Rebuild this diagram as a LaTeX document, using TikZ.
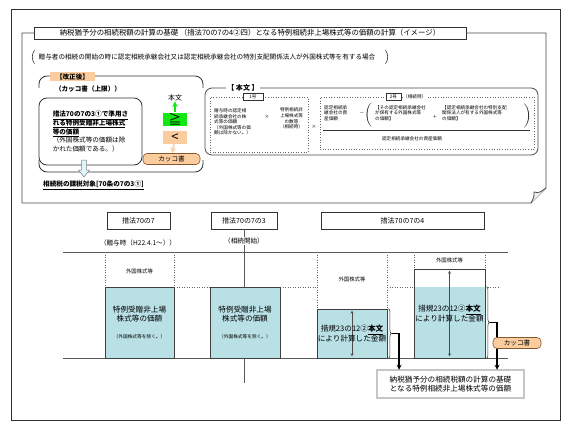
\documentclass[tikz,border=0pt]{standalone}
\usepackage{fontspec}
\setmainfont{Noto Sans CJK JP}
\usetikzlibrary{shapes.geometric, arrows, positioning, decorations.pathreplacing}

\definecolor{tealbox}{RGB}{185,224,229}
\definecolor{orng}{RGB}{251,204,158}
\definecolor{grn}{RGB}{20,232,20}

\newcommand{\fsTitle}{\fontsize{7.4pt}{9pt}\selectfont}
\newcommand{\fsCond}{\fontsize{6.6pt}{8.6pt}\selectfont}
\newcommand{\fsLaw}{\fontsize{7pt}{8pt}\selectfont}
\newcommand{\fsBox}{\fontsize{7.6pt}{9.4pt}\selectfont}
\newcommand{\fsSmall}{\fontsize{5.4pt}{6.4pt}\selectfont}
\newcommand{\fsXS}{\fontsize{4.7pt}{5.6pt}\selectfont}
\newcommand{\fsTiny}{\fontsize{4.6pt}{5.6pt}\selectfont}
\newcommand{\fsBig}{\fontsize{13pt}{14pt}\selectfont}

\tikzstyle{frame} = [draw=black!80, line width=0.6pt]
\tikzstyle{panel} = [draw=black!70, line width=0.8pt]
\tikzstyle{titlebox} = [rectangle, draw=black!80, line width=0.6pt, fill=white, minimum width=432pt, minimum height=12pt, inner sep=0pt, font=\fsTitle]
\tikzstyle{condtext} = [inner sep=1pt, minimum height=13pt, font=\fsCond]
\tikzstyle{paren} = [draw=black!80, line width=0.6pt]
\tikzstyle{grp} = [draw=black!80, line width=0.8pt, rounded corners=8pt]
\tikzstyle{kaiseitag} = [rectangle, fill=orng, inner sep=1pt, minimum width=45pt, minimum height=9pt, font=\fsCond\bfseries]
\tikzstyle{boldtext} = [inner sep=0pt, font=\fsCond\bfseries]
\tikzstyle{roundbox} = [rectangle, rounded corners=8pt, draw=black!80, line width=0.8pt, minimum width=103pt, minimum height=67pt, inner sep=0pt, align=left, font=\fsCond]
\tikzstyle{blockarrow} = [draw=gray, fill=cyan!12, line width=0.5pt]
\tikzstyle{cmpbox} = [rectangle, minimum width=24pt, minimum height=13pt, inner sep=0pt, font=\fsBig]
\tikzstyle{tag} = [rectangle, rounded corners=4pt, draw=brown!70!black, line width=0.6pt, fill=orng, minimum height=11pt, inner sep=0pt, font=\fsCond]
\tikzstyle{greenarrow} = [draw=grn, line width=1.5pt, ->, >=stealth]
\tikzstyle{orangearrow} = [draw=orng, line width=1.5pt, ->, >=stealth]
\tikzstyle{mainbox} = [rectangle, rounded corners=7pt, draw=black!70, line width=0.8pt, minimum width=333pt, minimum height=67pt, inner sep=0pt]
\tikzstyle{dotbox} = [rectangle, draw=black!60, dotted, line width=0.6pt, inner sep=0pt]
\tikzstyle{numlabel} = [rectangle, draw=black!80, line width=0.5pt, fill=white, minimum height=7pt, inner sep=0pt, font=\fsTiny]
\tikzstyle{tinytext} = [inner sep=0pt, font=\fsTiny]
\tikzstyle{lawbox} = [rectangle, draw=black!80, line width=0.6pt, fill=white, minimum height=17pt, inner sep=0pt, font=\fsLaw]
\tikzstyle{tline} = [draw=black!65, line width=1pt]
\tikzstyle{dotline} = [draw=black!60, dotted, line width=0.5pt]
\tikzstyle{valbox} = [rectangle, draw=black!75, line width=0.8pt, fill=tealbox, minimum width=70pt, inner sep=0pt]
\tikzstyle{valtext} = [inner sep=0pt, align=center, font=\fsBox]
\tikzstyle{smalltext} = [inner sep=1pt, font=\fsSmall]
\tikzstyle{dblarrow} = [<->, >=stealth, draw=black!70, line width=0.4pt]
\tikzstyle{rbrace} = [decorate, decoration={brace, amplitude=3pt}, draw=black!80, line width=0.6pt]
\tikzstyle{arrow} = [line width=1.2pt, ->, >=stealth]
\tikzstyle{resultbox} = [rectangle, draw=black!70, double=gray!45, double distance=1.2pt, line width=0.5pt, minimum width=147pt, minimum height=28pt, align=center, inner sep=0pt, font=\fsBox]

\begin{document}
\begin{tikzpicture}[x=1pt, y=-1pt]
    \path [use as bounding box, fill=white] (0,0) rectangle (580,433);

    % frames
    \draw [frame] (11,9) rectangle (560,420);
    \draw [panel] (22,33) -- (546,33) -- (546,188) -- (531,203) -- (22,203) -- cycle;
    \draw [panel, fill=gray!15] (531,203) .. controls (534,197) .. (534,192) .. controls (539,193) .. (546,188);

    \node (title) [titlebox] at (250,33) {納税猶予分の相続税額の計算の基礎 （措法70の7の4②四）となる特例相続非上場株式等の価額の計算（イメージ）};
    \node (cond) [condtext] at (207,57) {贈与者の相続の開始の時に認定相続承継会社又は認定相続承継会社の特別支配関係法人が外国株式等を有する場合};
    \draw [paren] ([xshift=-3pt]cond.north west) to [bend right=35] ([xshift=-3pt]cond.south west);
    \draw [paren] ([xshift=9pt]cond.north east) to [bend left=35] ([xshift=9pt]cond.south east);

    % kaisei group
    \draw [grp] (39,88) -- (39,76) -- (203,76) -- (203,88);
    \draw [grp] (39,160) -- (39,172) -- (203,172) -- (203,160);
    \node (kaisei) [kaiseitag] at (72.5,77) {【改正後】};
    \node (kakkoup) [boldtext] at (88,89) {（カッコ書（上限））};
    \node (pricebox) [roundbox] at (90.5,131.5) {\textbf{\underline{措法70の7の3①で準用さ}}\\\textbf{\underline{れる特例受贈非上場株式}}\\\textbf{\underline{等の価額}}\\（外国株式等の価額は除\\かれた価額である。）};
    \draw [blockarrow] (81.5,160) -- (86.5,160) -- (86.5,170) -- (89.5,170) -- (84,177) -- (78.5,170) -- (81.5,170) -- cycle;
    \node (taxobj) [boldtext, anchor=west] at (43,185) {\underline{相続税の課税対象[70条の7の3①]}};

    \node (honbun1) [inner sep=0pt, font=\fsLaw] at (175,98) {本文};
    \node (gebox) [cmpbox, fill=grn] at (175,119) {≧};
    \node (ltbox) [cmpbox, fill=orng] at (175,137.5) {<};
    \node (kakko1) [tag, minimum width=57pt] at (171.5,159) {カッコ書};
    \draw [greenarrow] (gebox) -- (honbun1);
    \draw [orangearrow] (ltbox) -- (kakko1);

    % honbun group
    \node (mainbox) [mainbox] at (371.5,121.5) {};
    \node (honbunlbl) [fill=white, inner sep=1pt, font=\fsLaw\bfseries] at (243,88) {【 本文 】};

    \node (go1) [dotbox, minimum width=98pt, minimum height=55pt] at (259,124.5) {};
    \node (go1lbl) [numlabel, minimum width=20pt] at (253,97) {1号};
    \node (t1a) [tinytext, anchor=west, align=left] at (214,122) {贈与時の認定相\\続承継会社の株\\式等の価額\\（外国株式等の価\\額は除かない。）};
    \node (times1) [tinytext] at (267,117) {×};
    \node (t1b) [tinytext, align=center] at (291.5,118.5) {特例相続非\\上場株式等\\の数等\\（相続時）};
    \node (times2) [tinytext] at (314,127) {×};

    \node (go2) [dotbox, minimum width=214pt, minimum height=52pt] at (427,123) {};
    \node (go2lbl) [numlabel, minimum width=15pt] at (393.5,97) {2号};
    \node (go2when) [tinytext, fill=white, anchor=west] at (403,97) {（相続時）};
    \node (num1) [tinytext, anchor=west, align=left] at (324,113) {認定相続承\\継会社の資\\産価額};
    \node (minus) [tinytext] at (362,114) {－};
    \node (lpar) [inner sep=0pt] at (369,115) {$\left(\vrule height 10pt depth 9pt width 0pt\right.$};
    \node (t2b) [tinytext, anchor=west, align=left] at (375,113) {【その認定相続承継会社\\が保有する外国株式等\\の価額】};
    \node (plus) [tinytext] at (435,117) {＋};
    \node (t2c) [tinytext, anchor=west, align=left] at (442,113) {【認定相続承継会社の特別支配\\関係法人が有する外国株式等\\の価額】};
    \node (rpar) [inner sep=0pt] at (527,116) {$\left.\vrule height 10pt depth 9pt width 0pt\right)$};
    \draw [draw=black!80, line width=0.5pt] (323,130) -- (530,130);
    \node (denom) [tinytext] at (412,139) {認定相続承継会社の資産価額};

    % time line
    \node (law1) [lawbox, minimum width=63pt] at (138.5,220.5) {措法70の7};
    \node (law2) [lawbox, minimum width=66pt] at (244,220.5) {措法70の7の3};
    \node (law3) [lawbox, minimum width=163pt] at (402.5,220.5) {措法70の7の4};
    \draw [tline] (law2.south) -- (244,383);
    \node (when1) [inner sep=1pt, font=\fsCond] at (138,243) {（贈与時（H22.4.1～））};
    \node (when2) [inner sep=1pt, fill=white, font=\fsCond] at (244,241) {（相続開始）};

    \draw [tline] (63,252) -- (508,252);
    \draw [tline] (63,358) -- (508,358);
    \draw [dotline] (174,287) -- (210,287);
    \draw [dotline] (280,287) -- (317,287);
    \draw [dotline] (387,287) -- (414,287);
    \draw [dotline] (485,287) -- (500,287);
    \draw [dotline] (105,252) -- (105,287);
    \draw [dotline] (174,252) -- (174,287);
    \draw [dotline] (317,252) -- (317,309);
    \draw [dotline] (387,252) -- (387,309);
    \draw [dotline] (414,252) -- (414,269);
    \draw [dotline] (485,252) -- (485,269);

    \node (gai1) [smalltext] at (139.5,271) {外国株式等};
    \node (gai3) [smalltext] at (352,279) {外国株式等};
    \node (gai4) [smalltext] at (449.5,260) {外国株式等};

    \node (box1) [valbox, minimum width=69pt, minimum height=71pt] at (139.5,322.5) {};
    \node (box1txt) [valtext] at (box1.center) {特例受贈非上場\\株式等の価額\\[8pt]{\fsXS （外国株式等を除く。）}};
    \node (box2) [valbox, minimum height=71pt] at (245,322.5) {};
    \node (box2txt) [valtext] at (box2.center) {特例受贈非上場\\株式等の価額\\[8pt]{\fsXS （外国株式等を除く。）}};

    \node (box3) [valbox, minimum height=49pt] at (352,333.5) {};
    \draw [dblarrow] ([yshift=-2pt]box3.north) -- ([yshift=2pt]box3.south);
    \node (box3txt) [valtext] at (box3.center) {措規23の12②\textbf{\underline{本文}}\\により計算した金額};

    \node (box4fill) [valbox, draw=none, minimum width=71pt, minimum height=71pt] at (449.5,322.5) {};
    \node (box4) [rectangle, draw=black!75, line width=0.8pt, minimum width=71pt, minimum height=89pt, inner sep=0pt] at (449.5,313.5) {};
    \draw [dblarrow] ([yshift=-2pt]box4.north) -- ([yshift=2pt]box4.south);
    \node (box4txt) [valtext] at (box4.center) {措規23の12②\textbf{\underline{本文}}\\により計算した金額};

    \draw [rbrace] ([xshift=1pt]box3.north east) -- ([xshift=1pt]box3.south east);
    \draw [rbrace] ([xshift=1pt]box4fill.north east) -- ([xshift=1pt]box4fill.south east);
    \coordinate (tip3) at ([xshift=5pt]box3.east);
    \coordinate (turn3) at (399,333.5);
    \coordinate (tip4) at ([xshift=5pt]box4fill.east);
    \coordinate (turn4) at (497,322.5);

    \node (result) [resultbox] at (450.5,384) {納税猶予分の相続税額の計算の基礎\\となる特例相続非上場株式等の価額};
    \draw [arrow] (tip3) -- (turn3) -- (turn3 |- result.north);
    \draw [arrow] (tip4) -- (turn4) -- (turn4 |- result.north);
    \node (kakko2) [tag, minimum width=48pt] at (517,343) {カッコ書};
\end{tikzpicture}
\end{document}
